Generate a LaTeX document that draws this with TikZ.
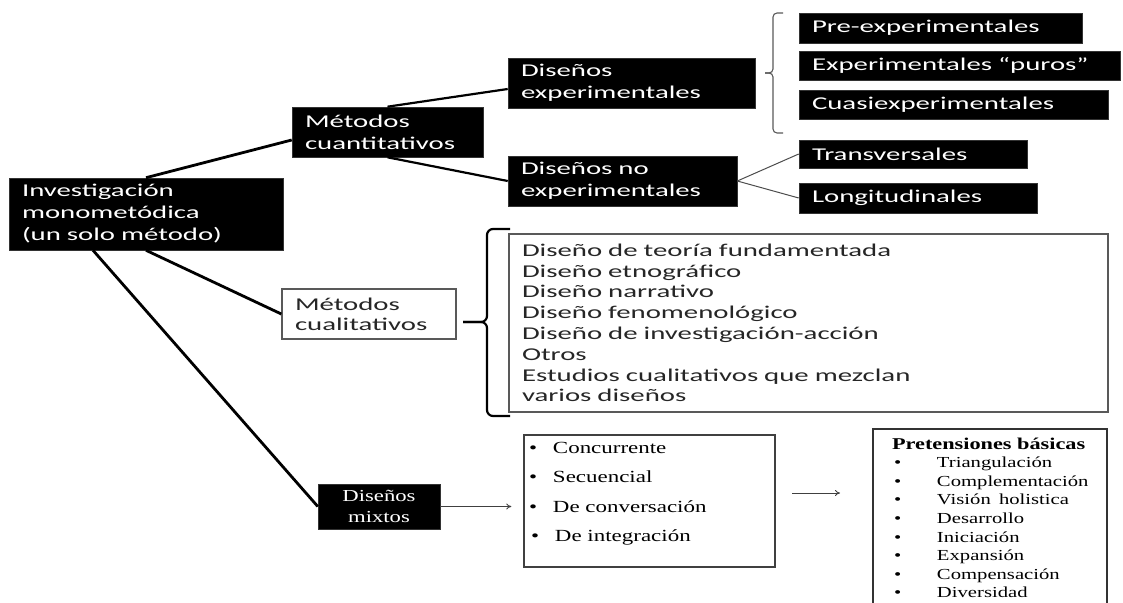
\documentclass[tikz,border=0pt]{standalone}
\usepackage{fontspec}
\newfontfamily\calfont[FakeStretch=1.6]{Carlito}
\newfontfamily\tnrfont[FakeStretch=1.35]{Liberation Serif}
\usetikzlibrary{arrows.meta,calc}
\begin{document}
\begin{tikzpicture}[x=1pt,y=-1pt,
  blk/.style={fill=black, draw=black!80, line width=0.6pt, text=white,
    font=\calfont\fontsize{18}{22}\selectfont, align=left, inner xsep=13pt, inner ysep=0pt},
  wbx/.style={fill=white, draw=black!65, line width=1.3pt, text=black!85,
    align=left, inner xsep=13pt, inner ysep=0pt},
  conn/.style={line width=2.8pt, black},
  thinln/.style={line width=1pt, black!70},
  arr/.style={line width=0.9pt, black!75, -{To[length=5pt,width=6pt]}},
  bracea/.style={line width=1.1pt, black!65, rounded corners=4pt},
  braceb/.style={line width=2.2pt, black, rounded corners=6pt},
]
\useasboundingbox (0,0) rectangle (1123,602);

% nodes
\node[blk, minimum width=274pt, minimum height=72pt, text width=248pt] (inv) at (146,214)
  {Investigación\\monometódica\\(un solo método)};
\node[blk, minimum width=191pt, minimum height=50pt, text width=165pt] (mcuant) at (387.5,132)
  {Métodos\\cuantitativos};
\node[blk, minimum width=247pt, minimum height=50pt, text width=221pt] (dexp) at (631.5,83)
  {Diseños\\experimentales};
\node[blk, minimum width=229pt, minimum height=50pt, text width=203pt] (dnoexp) at (622.5,181)
  {Diseños no\\experimentales};
\node[blk, minimum width=283pt, minimum height=30pt, text width=257pt] (pre) at (940.5,28)
  {Pre-experimentales};
\node[blk, minimum width=321pt, minimum height=29pt, text width=295pt] (puros) at (959.5,65.5)
  {Experimentales “puros”};
\node[blk, minimum width=309pt, minimum height=29pt, text width=283pt] (cuasi) at (953.5,104.5)
  {Cuasiexperimentales};
\node[blk, minimum width=228pt, minimum height=28pt, text width=202pt] (trans) at (913,154)
  {Transversales};
\node[blk, minimum width=238pt, minimum height=30pt, text width=212pt] (longi) at (918,198)
  {Longitudinales};

\node[wbx, font=\calfont\fontsize{18}{20}\selectfont, minimum width=174pt, minimum height=50pt, text width=148pt] (mcual) at (369,314)
  {Métodos\\cualitativos};
\node[wbx, font=\calfont\fontsize{18}{20.8}\selectfont, minimum width=599pt, minimum height=178pt, text width=573pt] (lista) at (808.5,323)
  {Diseño de teoría fundamentada\\Diseño etnográfico\\Diseño narrativo\\Diseño fenomenológico\\Diseño de investigación-acción\\Otros\\Estudios cualitativos que mezclan\\varios diseños};

\node[fill=black, draw=black!80, text=white, font=\tnrfont\fontsize{16.8}{21}\selectfont, align=center,
  minimum width=122pt, minimum height=45pt, inner sep=0pt] (mixtos) at (379,506.5) {Diseños\\mixtos};

\node[draw=black!75, line width=1.3pt, fill=white, inner sep=0pt] (bul) at (649.5,501)
  {\parbox[c][132pt][t]{251pt}{\tnrfont\fontsize{17}{29.5}\selectfont
   \rule{0pt}{18pt}\hspace*{5pt}\makebox[24pt][l]{\textbullet}Concurrente\\
   \hspace*{5pt}\makebox[24pt][l]{\textbullet}Secuencial\\
   \hspace*{5pt}\makebox[24pt][l]{\textbullet}De conversación\\
   \hspace*{7pt}\makebox[24pt][l]{\textbullet}De integración}};

\node[draw=black!80, line width=1.2pt, fill=white, inner sep=0pt] (pret) at (990,524)
  {\parbox[c][190pt][t]{234pt}{\tnrfont\fontsize{15.3}{18.6}\selectfont
   \rule{0pt}{20pt}\hspace*{19pt}{\fontsize{16.5}{18.6}\selectfont\textbf{Pretensiones básicas}}\\
   \hspace*{21pt}\makebox[43pt][l]{\textbullet}Triangulación\\
   \hspace*{21pt}\makebox[43pt][l]{\textbullet}Complementación\\
   \hspace*{21pt}\makebox[43pt][l]{\textbullet}Visión\hspace{3pt} holistica\\
   \hspace*{21pt}\makebox[43pt][l]{\textbullet}Desarrollo\\
   \hspace*{21pt}\makebox[43pt][l]{\textbullet}Iniciación\\
   \hspace*{21pt}\makebox[43pt][l]{\textbullet}Expansión\\
   \hspace*{21pt}\makebox[43pt][l]{\textbullet}Compensación\\
   \hspace*{21pt}\makebox[43pt][l]{\textbullet}Diversidad}};

% connectors
\draw[conn] (inv.north) -- ([yshift=-8pt]mcuant.west);
\draw[conn, line width=2.2pt] (mcuant.north) -- ([yshift=-6pt]dexp.west);
\draw[conn, line width=2.2pt] (mcuant.south) -- (dnoexp.west);
\draw[thinln] (dnoexp.east) -- (trans.west);
\draw[thinln] (dnoexp.east) -- (longi.west);
\draw[conn] (inv.south) -- (mcual.west);
\draw[conn] ([xshift=-53pt]inv.south) -- (mixtos.west);
\draw[arr] (mixtos.east) -- ([xshift=-12pt]bul.west |- mixtos.east);
\coordinate (fa1) at (792,493);
\coordinate (fa2) at (840,493);
\draw[arr] (fa1) -- (fa2);

% braces
\draw[bracea] (783,13) -- (773,13) -- (773,73) -- (765,73);
\draw[bracea] (765,73) -- (773,73) -- (773,133) -- (783,133);
\draw[braceb] (510,229) -- (487,229) -- (487,322) -- (463,322);
\draw[braceb] (463,322) -- (487,322) -- (487,416) -- (510,416);
\end{tikzpicture}
\end{document}
